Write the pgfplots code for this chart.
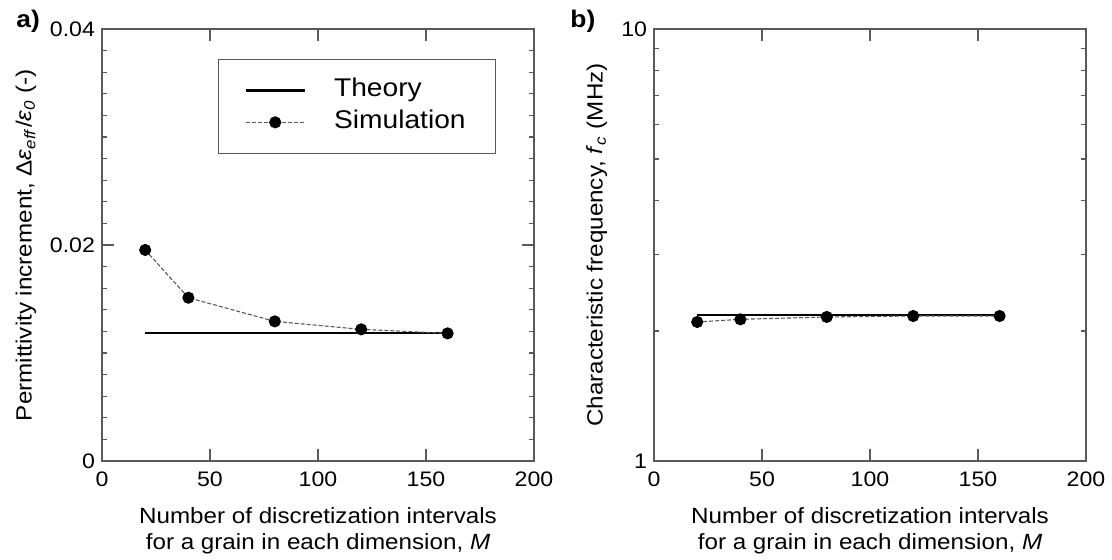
\documentclass[border=0pt]{standalone}
\usepackage{fontspec}
\setmainfont[FakeStretch=1.1]{Liberation Sans}
\usepackage{pgfplots}
\pgfplotsset{compat=1.18}

\pgfplotsset{mystyle/.style={
  scale only axis, width=216pt, height=216pt,
  xmin=0, xmax=200, xtick={0,50,100,150,200},
  tick align=inside, major tick length=6pt, minor tick length=2.7pt,
  axis line style={black!65, line width=0.55pt},
  every tick/.style={black!65, line width=0.55pt},
  /pgf/number format/assume math mode=true,
  tick label style={font=\fontsize{10.5}{12}\selectfont},
  xticklabel style={yshift=-2pt},
  label style={font=\fontsize{11}{13.2}\selectfont},
  xlabel={Number of discretization intervals\\for a grain in each dimension, \textit{M}},
  xlabel style={align=center, at={(axis description cs:0.5,-0.106)}, anchor=north, inner sep=0pt},
  scaled y ticks=false,
  legend image code/.code={\draw[mark repeat=2,mark phase=2,##1] plot coordinates {(0pt,0pt)(14.75pt,0pt)(29.5pt,0pt)};
    \path (0pt,0pt) (41.5pt,0pt);},
  theory/.style={black, line width=1.4pt, no marks},
  sim/.style={draw=black!65, line width=0.55pt, dash pattern=on 2pt off 1pt, mark=*, mark size=2.75pt, mark options={solid, fill=black, draw=black}},
}}

\begin{document}
\begin{tikzpicture}
\path[use as bounding box] (0,0) rectangle (556pt,279.5pt);

\begin{axis}[mystyle,
  at={(51pt,49pt)}, anchor=south west,
  ymin=0, ymax=0.04, ytick={0,0.02,0.04}, yticklabels={0,0.02,0.04},
  minor y tick num=9,
  ylabel={Permittivity increment, Δ\textit{ε}\textsubscript{\textit{eff}}/\textit{ε}\textsubscript{\textit{0}} (-)},
  ylabel style={at={(axis description cs:-0.176,0.5)}, anchor=center},
  legend style={at={(axis description cs:0.268,0.931)}, anchor=north west,
    draw=black!65, line width=0.55pt, font=\fontsize{12.8}{15}\selectfont,
    inner xsep=13pt, inner ysep=7.5pt,
    nodes={inner sep=2pt, text height=9.3pt, text depth=2.7pt}},
  legend cell align=left,
]
\addplot[theory] coordinates {(20,0.01185) (160,0.01185)};
\addplot[sim] coordinates {(20,0.01954) (40,0.01512) (80,0.01293) (120,0.01219) (160,0.01182)};
\legend{Theory, Simulation}
\end{axis}

\begin{axis}[mystyle,
  at={(327pt,49pt)}, anchor=south west,
  ymode=log, ymin=1, ymax=10, ytick={1,10}, yticklabels={1,10},
  ylabel={Characteristic frequency, \textit{f}\textsubscript{\textit{c}} (MHz)},
  ylabel style={at={(axis description cs:-0.132,0.5)}, anchor=center},
]
\addplot[theory] coordinates {(20,2.177) (160,2.177)};
\addplot[sim] coordinates {(20,2.098) (40,2.128) (80,2.155) (120,2.166) (160,2.166)};
\end{axis}

\node[anchor=base west, inner sep=0pt, font=\bfseries\fontsize{12}{14}\selectfont] at (8pt,266pt) {a)};
\node[anchor=base west, inner sep=0pt, font=\bfseries\fontsize{12}{14}\selectfont] at (285pt,266pt) {b)};
\end{tikzpicture}
\end{document}
